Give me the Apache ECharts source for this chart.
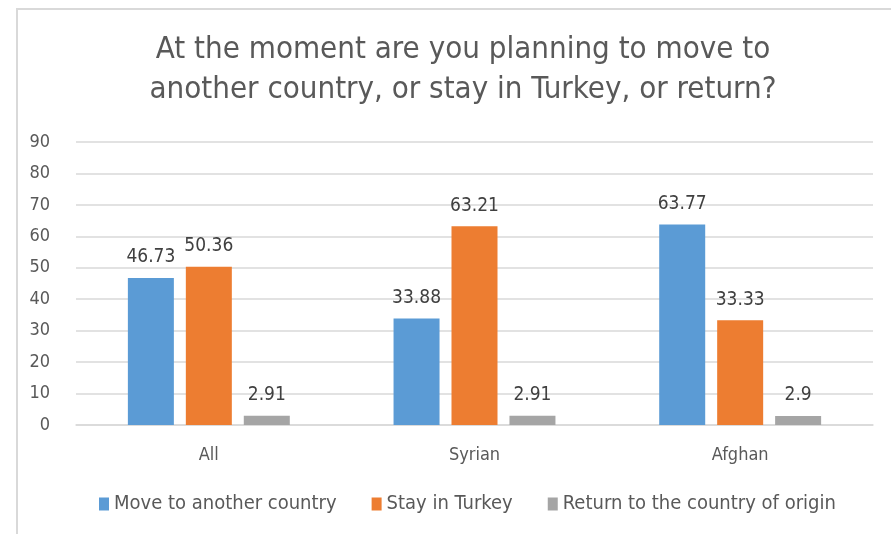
<!DOCTYPE html>
<html>
<head>
<meta charset="utf-8">
<script src="https://cdn.jsdelivr.net/npm/echarts@6/dist/echarts.min.js"></script>
<style>
  html, body { margin: 0; padding: 0; background: #fff; }
  #main { width: 891px; height: 534px; }
</style>
</head>
<body>
<div id="main"></div>
<script>
// groups on the x axis
var categories = ['All', 'Syrian', 'Afghan'];
// percentages per answer
var moveValues = [46.73, 33.88, 63.77];
var stayValues = [50.36, 63.21, 33.33];
var returnValues = [2.91, 2.91, 2.9];
var seriesNames = ['Move to another country', 'Stay in Turkey', 'Return to the country of origin'];

var font = 'Liberation Sans Narrow, DejaVu Sans Condensed, sans-serif';
var textColor = '#595959';

function barSeries(name, values, color) {
    return {
        name: name,
        type: 'bar',
        barWidth: 46,
        barGap: '26%',
        itemStyle: { color: color },
        label: {
            show: true,
            position: 'top',
            distance: 11,
            color: '#404040',
            fontSize: 19,
            fontFamily: font
        },
        data: values
    };
}

var chart = echarts.init(document.getElementById('main'));
chart.setOption({
    animation: false,
    title: {
        text: 'At the moment are you planning to move to\nanother country, or stay in Turkey, or return?',
        left: 458,
        top: 25,
        textAlign: 'center',
        textStyle: {
            color: textColor,
            fontSize: 31,
            fontWeight: 'normal',
            fontFamily: font,
            lineHeight: 40
        }
    },
    legend: {
        bottom: 15,
        left: 94,
        itemWidth: 10,
        itemHeight: 13,
        itemGap: 35,
        icon: 'rect',
        textStyle: { color: textColor, fontSize: 20, fontFamily: font }
    },
    grid: { left: 76, right: 18, top: 142, bottom: 109 },
    xAxis: {
        type: 'category',
        data: categories,
        axisLine: { lineStyle: { color: '#d9d9d9', width: 1.5 } },
        axisTick: { show: false },
        axisLabel: { color: textColor, fontSize: 18, fontFamily: font, margin: 21 }
    },
    yAxis: {
        type: 'value',
        min: 0,
        max: 90,
        interval: 10,
        axisLine: { show: false },
        axisTick: { show: false },
        axisLabel: { color: textColor, fontSize: 18, fontFamily: font, margin: 26 },
        splitLine: { lineStyle: { color: '#d9d9d9', width: 1.5 } }
    },
    graphic: [
        { type: 'line', shape: { x1: 16, y1: 9, x2: 891, y2: 9 }, style: { stroke: '#d9d9d9', lineWidth: 2 } },
        { type: 'line', shape: { x1: 17, y1: 8, x2: 17, y2: 534 }, style: { stroke: '#d9d9d9', lineWidth: 2 } }
    ],
    series: [
        barSeries(seriesNames[0], moveValues, '#5b9bd5'),
        barSeries(seriesNames[1], stayValues, '#ed7d31'),
        barSeries(seriesNames[2], returnValues, '#a5a5a5')
    ]
});
</script>
</body>
</html>
